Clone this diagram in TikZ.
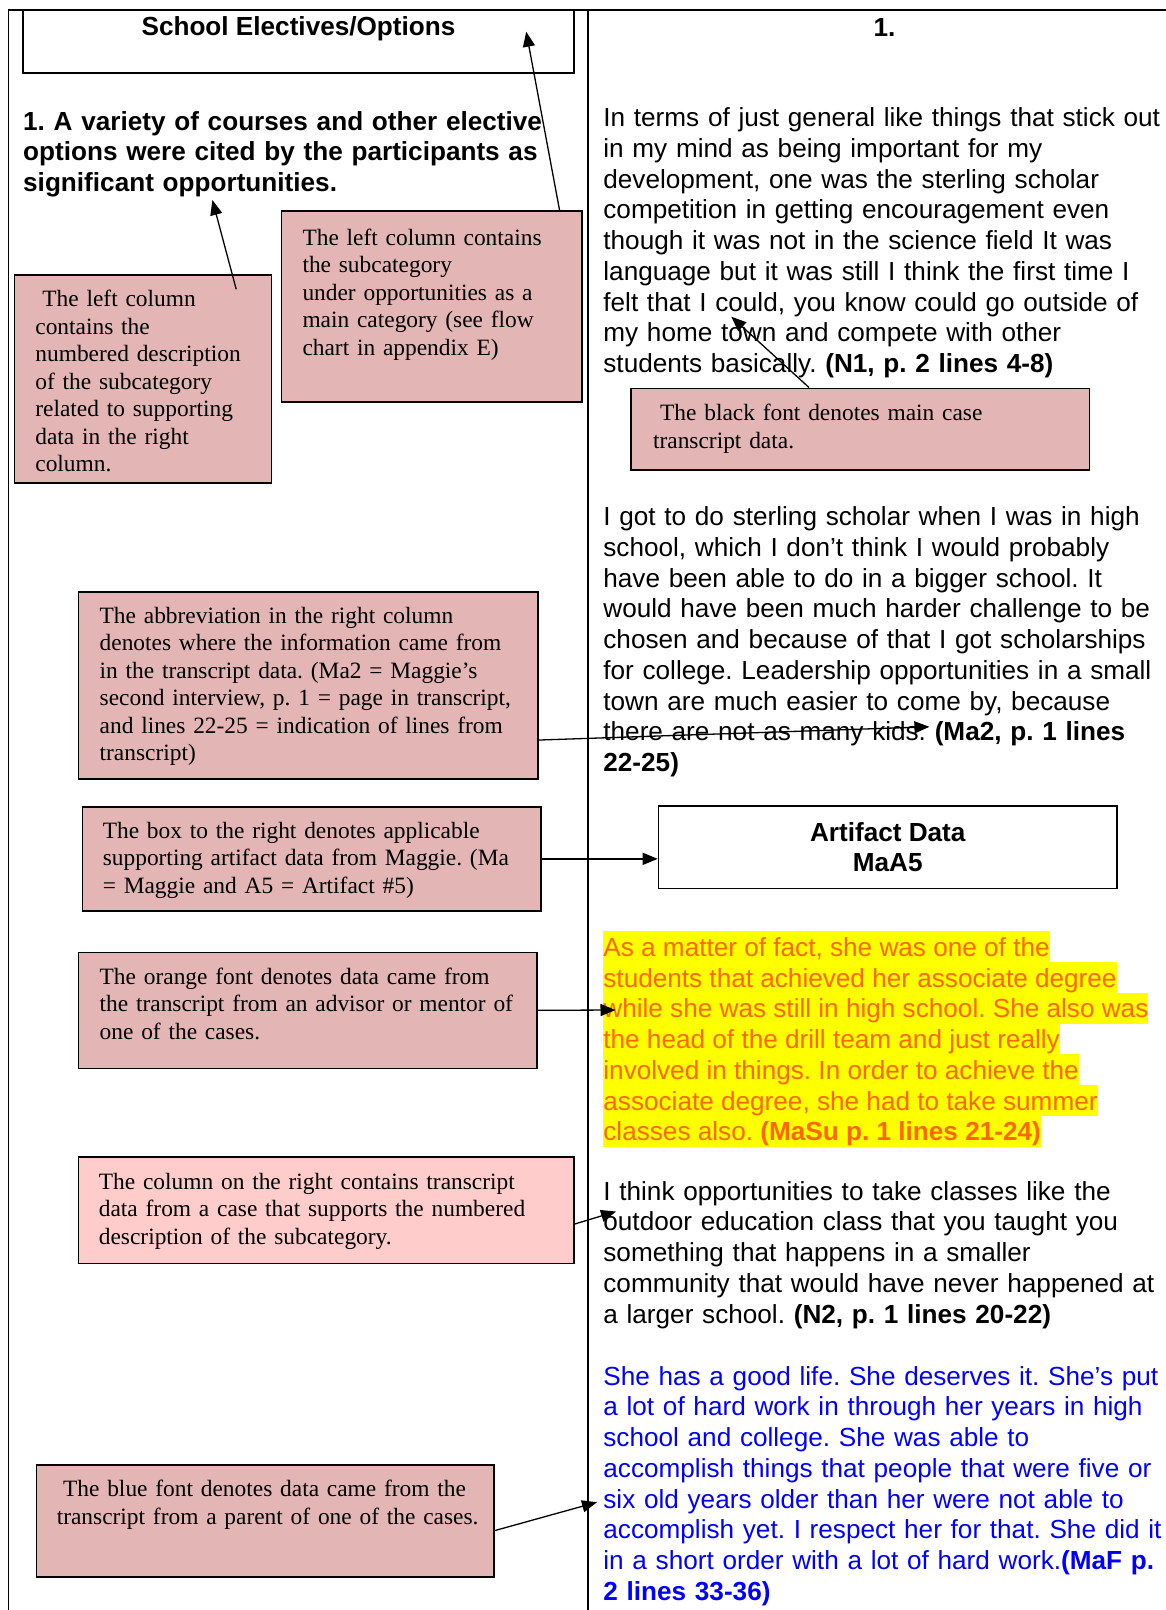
\documentclass[tikz,border=0pt]{standalone}
\usepackage{fontspec}
\setmainfont{Liberation Serif}
\newfontfamily\arial{Liberation Sans}
\usetikzlibrary{arrows.meta,fit,calc}
\definecolor{notepink}{RGB}{227,181,181}
\definecolor{lightpink}{RGB}{255,204,204}
\definecolor{advorange}{RGB}{255,102,0}
\definecolor{hlyellow}{RGB}{255,255,0}
\definecolor{parentblue}{RGB}{0,0,255}
\newcommand{\sansfs}{\frenchspacing\arial\fontsize{26.15}{30.75}\selectfont}
\newcommand{\seriffs}{\frenchspacing\fontsize{23.4}{27.5}\selectfont}
\begin{document}
\frenchspacing
\begin{tikzpicture}[x=1pt,y=-1pt,
  frameline/.style={line width=1.5pt, draw=black},
  notebox/.style={draw=black, line width=1.6pt, fill=notepink, inner sep=0pt},
  plainbox/.style={draw=black, line width=1.6pt, fill=white, inner sep=0pt},
  notetext/.style={anchor=base west, inner sep=0pt, text width=520pt, align=left, font=\seriffs},
  datatext/.style={anchor=base west, inner sep=0pt, text width=620pt, align=left, font=\sansfs},
  hlline/.style={anchor=base west, inner xsep=0pt, inner ysep=0pt, fill=hlyellow, text=advorange, text height=25pt, text depth=5.75pt, font=\sansfs},
  conn/.style={line width=1.3pt, draw=black, -{Triangle[length=15pt,width=12pt]}},
]
\useasboundingbox (0,0) rectangle (1166,1610);
\fill[white] (0,0) rectangle (1166,1610);
% table frame
\draw[frameline] (8.4,1610) -- (8.4,10) -- (1166,10);
\draw[frameline] (588,10) -- (588,1610);

% header boxes
\node[plainbox, fit={(23,10) (574,73)}] (title) {};
\node[font=\sansfs\bfseries, anchor=base, inner sep=0pt] (titletext) at (298.5,35) {School Electives/Options};
\node[font=\sansfs\bfseries, anchor=base, inner sep=0pt] (num) at (884.6,36) {1.};

% left column heading
\node[datatext, font=\sansfs\bfseries] (desc) at (23,130) {1. A variety of courses and other elective\\
options were cited by the participants as\\
significant opportunities.};

% explanatory boxes
\node[notebox, fit={(14.5,275) (271.3,482.7)}] (boxA) {};
\node[notetext] (boxAtext) at (35.2,306.7) {\hspace*{0.3em}The left column\\
contains the\\
numbered description\\
of the subcategory\\
related to supporting\\
data in the right\\
column.};

\node[notebox, fit={(281.3,210.7) (581.7,401.7)}] (boxB) {};
\node[notetext] (boxBtext) at (302.3,245) {The left column contains\\
the subcategory\\
under opportunities as a\\
main category (see flow\\
chart in appendix E)};

\node[notebox, fit={(631.2,388.3) (1089.3,470)}] (boxC) {};
\node[notetext] (boxCtext) at (652.9,420.7) {\hspace*{0.3em}The black font denotes main case\\
transcript data.};

\node[notebox, fit={(78.5,591.7) (537.7,779)}] (boxD) {};
\node[notetext] (boxDtext) at (99.5,623.3) {The abbreviation in the right column\\
denotes where the information came from\\
in the transcript data. (Ma2 = Maggie’s\\
second interview, p. 1 = page in transcript,\\
and lines 22-25 = indication of lines from\\
transcript)};

\node[notebox, fit={(82.3,806.7) (540.8,911)}] (boxE) {};
\node[notetext] (boxEtext) at (102.6,838.3) {The box to the right denotes applicable\\
supporting artifact data from Maggie. (Ma\\
= Maggie and A5 = Artifact \#5)};

\node[notebox, fit={(78.5,952.3) (537,1068.3)}] (boxF) {};
\node[notetext] (boxFtext) at (99.5,984.3) {The orange font denotes data came from\\
the transcript from an advisor or mentor of\\
one of the cases.};

\node[notebox, fill=lightpink, fit={(78.5,1156.7) (574,1263.3)}] (boxG) {};
\node[notetext] (boxGtext) at (98.7,1189.3) {The column on the right contains transcript\\
data from a case that supports the numbered\\
description of the subcategory.};

\node[notebox, fit={(36.4,1465) (493.7,1576.7)}] (boxH) {};
\node[notetext] (boxHtext) at (56.6,1496.7) {\hspace*{0.27em}The blue font denotes data came from the\\
transcript from a parent of one of the cases.};

% right column data
\node[datatext] (para1) at (603.2,126.7) {In terms of just general like things that stick out\\
in my mind as being important for my\\
development, one was the sterling scholar\\
competition in getting encouragement even\\
though it was not in the science field It was\\
language but it was still I think the first time I\\
felt that I could, you know could go outside of\\
my home town and compete with other\\
students basically. \textbf{(N1, p. 2 lines 4-8)}};

\node[datatext] (para2) at (603.2,525.7) {I got to do sterling scholar when I was in high\\
school, which I don’t think I would probably\\
have been able to do in a bigger school. It\\
would have been much harder challenge to be\\
chosen and because of that I got scholarships\\
for college. Leadership opportunities in a small\\
town are much easier to come by, because\\
there are not as many kids. \textbf{(Ma2, p. 1 lines}\\
\textbf{22-25)}};

\node[plainbox, fit={(658.5,806) (1117,888.5)}] (artifact) {};
\node[font=\sansfs\bfseries, align=center, inner sep=0pt] (artifacttext) at (artifact.center) {Artifact Data\\MaA5};

\node[hlline] (o1) at (603.2,956.3) {As a matter of fact, she was one of the\ };
\node[hlline] (o2) at (603.2,987.05) {students that achieved her associate degree\ };
\node[hlline] (o3) at (603.2,1017.8) {while she was still in high school. She also was\ };
\node[hlline] (o4) at (603.2,1048.55) {the head of the drill team and just really\ };
\node[hlline] (o5) at (603.2,1079.3) {involved in things. In order to achieve the\ };
\node[hlline] (o6) at (603.2,1110.05) {associate degree, she had to take summer\ };
\node[hlline] (o7) at (603.2,1140.8) {classes also. \textbf{(MaSu p. 1 lines 21-24)}};

\node[datatext] (para3) at (603.2,1200) {I think opportunities to take classes like the\\
outdoor education class that you taught you\\
something that happens in a smaller\\
community that would have never happened at\\
a larger school. \textbf{(N2, p. 1 lines 20-22)}};

\node[datatext, text=parentblue] (para4) at (603.2,1385) {She has a good life. She deserves it. She’s put\\
a lot of hard work in through her years in high\\
school and college. She was able to\\
accomplish things that people that were five or\\
six old years older than her were not able to\\
accomplish yet. I respect her for that. She did it\\
in a short order with a lot of hard work.\textbf{(MaF p.}\\
\textbf{2 lines 33-36)}};

% connector ends
\coordinate (tipA) at (212.4,200);
\coordinate (tipB) at (526.2,31.7);
\coordinate (tipC) at (731.3,316.7);
\coordinate (tipD) at (929.4,726.8);
\coordinate (tipF) at (615.5,1010);
\coordinate (tipG) at (616,1211.5);
\coordinate (tipH) at (597,1502.2);

% connectors
\draw[conn] ($(boxA.north east)+(-35.9,15)$) -- (tipA);
\draw[conn] ($(boxB.north east)+(-23,0)$) -- (tipB);
\draw[conn] ($(boxC.north west)+(178.6,0)$) -- (tipC);
\draw[conn] ($(boxD.east)+(0,54.7)$) -- (tipD);
\draw[conn] (boxE.east) -- (boxE.east -| artifact.west);
\draw[conn] (boxF.east) -- (tipF);
\draw[conn] ($(boxG.east)+(0,14)$) -- (tipG);
\draw[conn] ($(boxH.east)+(0,9.8)$) -- (tipH);
\end{tikzpicture}
\end{document}
